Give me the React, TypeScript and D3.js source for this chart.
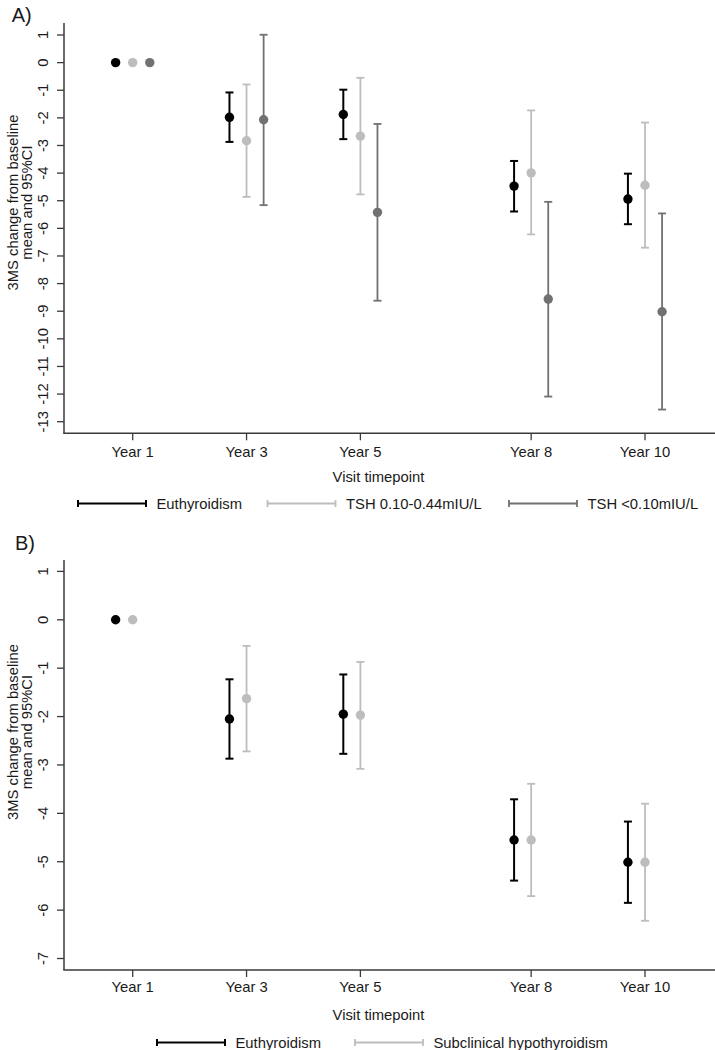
import React from "react";
import * as d3 from "d3";

// ---------- data ----------
const years = [1, 3, 5, 8, 10];
const yearLabels = ["Year 1", "Year 3", "Year 5", "Year 8", "Year 10"];

// Panel A
const euthA_mean = [0, -1.98, -1.88, -4.47, -4.94];
const euthA_hi = [null, -1.08, -0.98, -3.56, -4.02];
const euthA_lo = [null, -2.87, -2.77, -5.39, -5.85];
const tshA_mean = [0, -2.83, -2.66, -3.99, -4.44];
const tshA_hi = [null, -0.79, -0.55, -1.73, -2.17];
const tshA_lo = [null, -4.86, -4.77, -6.22, -6.7];
const lowA_mean = [0, -2.07, -5.42, -8.56, -9.02];
const lowA_hi = [null, 1.01, -2.22, -5.04, -5.46];
const lowA_lo = [null, -5.16, -8.62, -12.09, -12.56];

// Panel B
const euthB_mean = [0, -2.05, -1.95, -4.55, -5.01];
const euthB_hi = [null, -1.23, -1.13, -3.71, -4.17];
const euthB_lo = [null, -2.87, -2.77, -5.39, -5.85];
const subB_mean = [0, -1.63, -1.97, -4.55, -5.01];
const subB_hi = [null, -0.54, -0.87, -3.39, -3.8];
const subB_lo = [null, -2.72, -3.08, -5.71, -6.22];

const ticksA = d3.range(1, -14, -1);
const ticksB = d3.range(1, -8, -1);

const yTitle1 = "3MS change from baseline";
const yTitle2 = "mean and 95%CI";
const xTitle = "Visit timepoint";

// ---------- styles ----------
const FONT = "'Liberation Sans', Arial, Helvetica, sans-serif";
const FS = 14.8;
const TEXT = "#1a1a1a";
const AXIS = "#3a3a3a";
const BLACK = "#000000";
const LIGHT = "#bdbdbd";
const DARK = "#717171";

type Series = {
  name: string;
  color: string;
  width: number;
  offset: number;
  mean: number[];
  hi: (number | null)[];
  lo: (number | null)[];
  legendX: number;
};

const seriesA: Series[] = [
  { name: "Euthyroidism", color: BLACK, width: 2, offset: -0.3, mean: euthA_mean, hi: euthA_hi, lo: euthA_lo, legendX: 78 },
  { name: "TSH 0.10-0.44mIU/L", color: LIGHT, width: 1.8, offset: 0, mean: tshA_mean, hi: tshA_hi, lo: tshA_lo, legendX: 267.5 },
  { name: "TSH <0.10mIU/L", color: DARK, width: 1.8, offset: 0.3, mean: lowA_mean, hi: lowA_hi, lo: lowA_lo, legendX: 509 },
];

const seriesB: Series[] = [
  { name: "Euthyroidism", color: BLACK, width: 2, offset: -0.3, mean: euthB_mean, hi: euthB_hi, lo: euthB_lo, legendX: 157 },
  { name: "Subclinical hypothyroidism", color: LIGHT, width: 1.8, offset: 0, mean: subB_mean, hi: subB_hi, lo: subB_lo, legendX: 355 },
];

const xScale = d3.scaleLinear().domain([1, 10]).range([132.7, 645]);
const AXIS_LEFT = 64;
const AXIS_RIGHT = 715;

type PanelProps = {
  label: string;
  labelX: number;
  labelY: number;
  yDomain: [number, number];
  yRange: [number, number];
  axisTop: number;
  axisBottom: number;
  ticks: number[];
  titleCenter: number;
  series: Series[];
  xLabelY: number;
  xTitleY: number;
  legendY: number;
};

function Panel(p: PanelProps) {
  const y = d3.scaleLinear().domain(p.yDomain).range(p.yRange);
  const keyLen = 68;
  return (
    <g>
      <text x={p.labelX} y={p.labelY} fontSize={20} fill={TEXT} fontFamily={FONT}>
        {p.label}
      </text>
      {/* y title */}
      <g transform={`translate(17.5, ${p.titleCenter}) rotate(-90)`}>
        <text textAnchor="middle" fontSize={FS} fill={TEXT} fontFamily={FONT}>
          {yTitle1}
        </text>
        <text y={14} textAnchor="middle" fontSize={FS} fill={TEXT} fontFamily={FONT}>
          {yTitle2}
        </text>
      </g>
      {/* axes */}
      <line x1={AXIS_LEFT} x2={AXIS_LEFT} y1={p.axisTop} y2={p.axisBottom} stroke={AXIS} strokeWidth={1.5} />
      <line x1={AXIS_LEFT - 0.75} x2={AXIS_RIGHT} y1={p.axisBottom} y2={p.axisBottom} stroke={AXIS} strokeWidth={1.5} />
      {p.ticks.map((t) => (
        <g key={t}>
          <line x1={AXIS_LEFT - 7} x2={AXIS_LEFT} y1={y(t)} y2={y(t)} stroke={AXIS} strokeWidth={1.3} />
          <text
            transform={`translate(47.5, ${y(t)}) rotate(-90)`}
            textAnchor="middle"
            fontSize={FS}
            fill={TEXT}
            fontFamily={FONT}
          >
            {t}
          </text>
        </g>
      ))}
      {years.map((yr, i) => (
        <g key={yr}>
          <line x1={xScale(yr)} x2={xScale(yr)} y1={p.axisBottom} y2={p.axisBottom + 7} stroke={AXIS} strokeWidth={1.3} />
          <text x={xScale(yr)} y={p.xLabelY} textAnchor="middle" fontSize={FS} fill={TEXT} fontFamily={FONT}>
            {yearLabels[i]}
          </text>
        </g>
      ))}
      <text x={(AXIS_LEFT + 693) / 2} y={p.xTitleY} textAnchor="middle" fontSize={FS} fill={TEXT} fontFamily={FONT}>
        {xTitle}
      </text>
      {/* series */}
      {p.series.map((s) => (
        <g key={s.name}>
          {years.map((yr, i) => {
            const cx = xScale(yr + s.offset);
            const hi = s.hi[i];
            const lo = s.lo[i];
            return (
              <g key={yr}>
                {hi !== null && lo !== null && (
                  <g stroke={s.color} strokeWidth={s.width}>
                    <line x1={cx} x2={cx} y1={y(hi)} y2={y(lo)} />
                    <line x1={cx - 4} x2={cx + 4} y1={y(hi)} y2={y(hi)} />
                    <line x1={cx - 4} x2={cx + 4} y1={y(lo)} y2={y(lo)} />
                  </g>
                )}
                <circle cx={cx} cy={y(s.mean[i])} r={4.7} fill={s.color} />
              </g>
            );
          })}
        </g>
      ))}
      {/* legend */}
      {p.series.map((s) => (
        <g key={"leg" + s.name}>
          <g stroke={s.color} strokeWidth={s.width}>
            <line x1={s.legendX} x2={s.legendX + keyLen} y1={p.legendY - 3.5} y2={p.legendY - 3.5} />
            <line x1={s.legendX} x2={s.legendX} y1={p.legendY - 7} y2={p.legendY} />
            <line x1={s.legendX + keyLen} x2={s.legendX + keyLen} y1={p.legendY - 7} y2={p.legendY} />
          </g>
          <text x={s.legendX + keyLen + 10.5} y={p.legendY + 1.5} fontSize={FS} fill={TEXT} fontFamily={FONT}>
            {s.name}
          </text>
        </g>
      ))}
    </g>
  );
}

export default function App() {
  return (
    <svg
      width={715}
      height={1050}
      style={{ position: "absolute", left: 0, top: 0, background: "#fff" }}
    >
      <rect width={715} height={1050} fill="#fff" />
      <Panel
        label="A)"
        labelX={11.7}
        labelY={22}
        yDomain={[1, -13]}
        yRange={[35, 421.7]}
        axisTop={23}
        axisBottom={433.3}
        ticks={ticksA}
        titleCenter={202.5}
        series={seriesA}
        xLabelY={456.7}
        xTitleY={482.3}
        legendY={507}
      />
      <Panel
        label="B)"
        labelX={15}
        labelY={549.7}
        yDomain={[1, -7]}
        yRange={[571.4, 958.5]}
        axisTop={560}
        axisBottom={970}
        ticks={ticksB}
        titleCenter={732}
        series={seriesB}
        xLabelY={992.3}
        xTitleY={1020}
        legendY={1046}
      />
    </svg>
  );
}
